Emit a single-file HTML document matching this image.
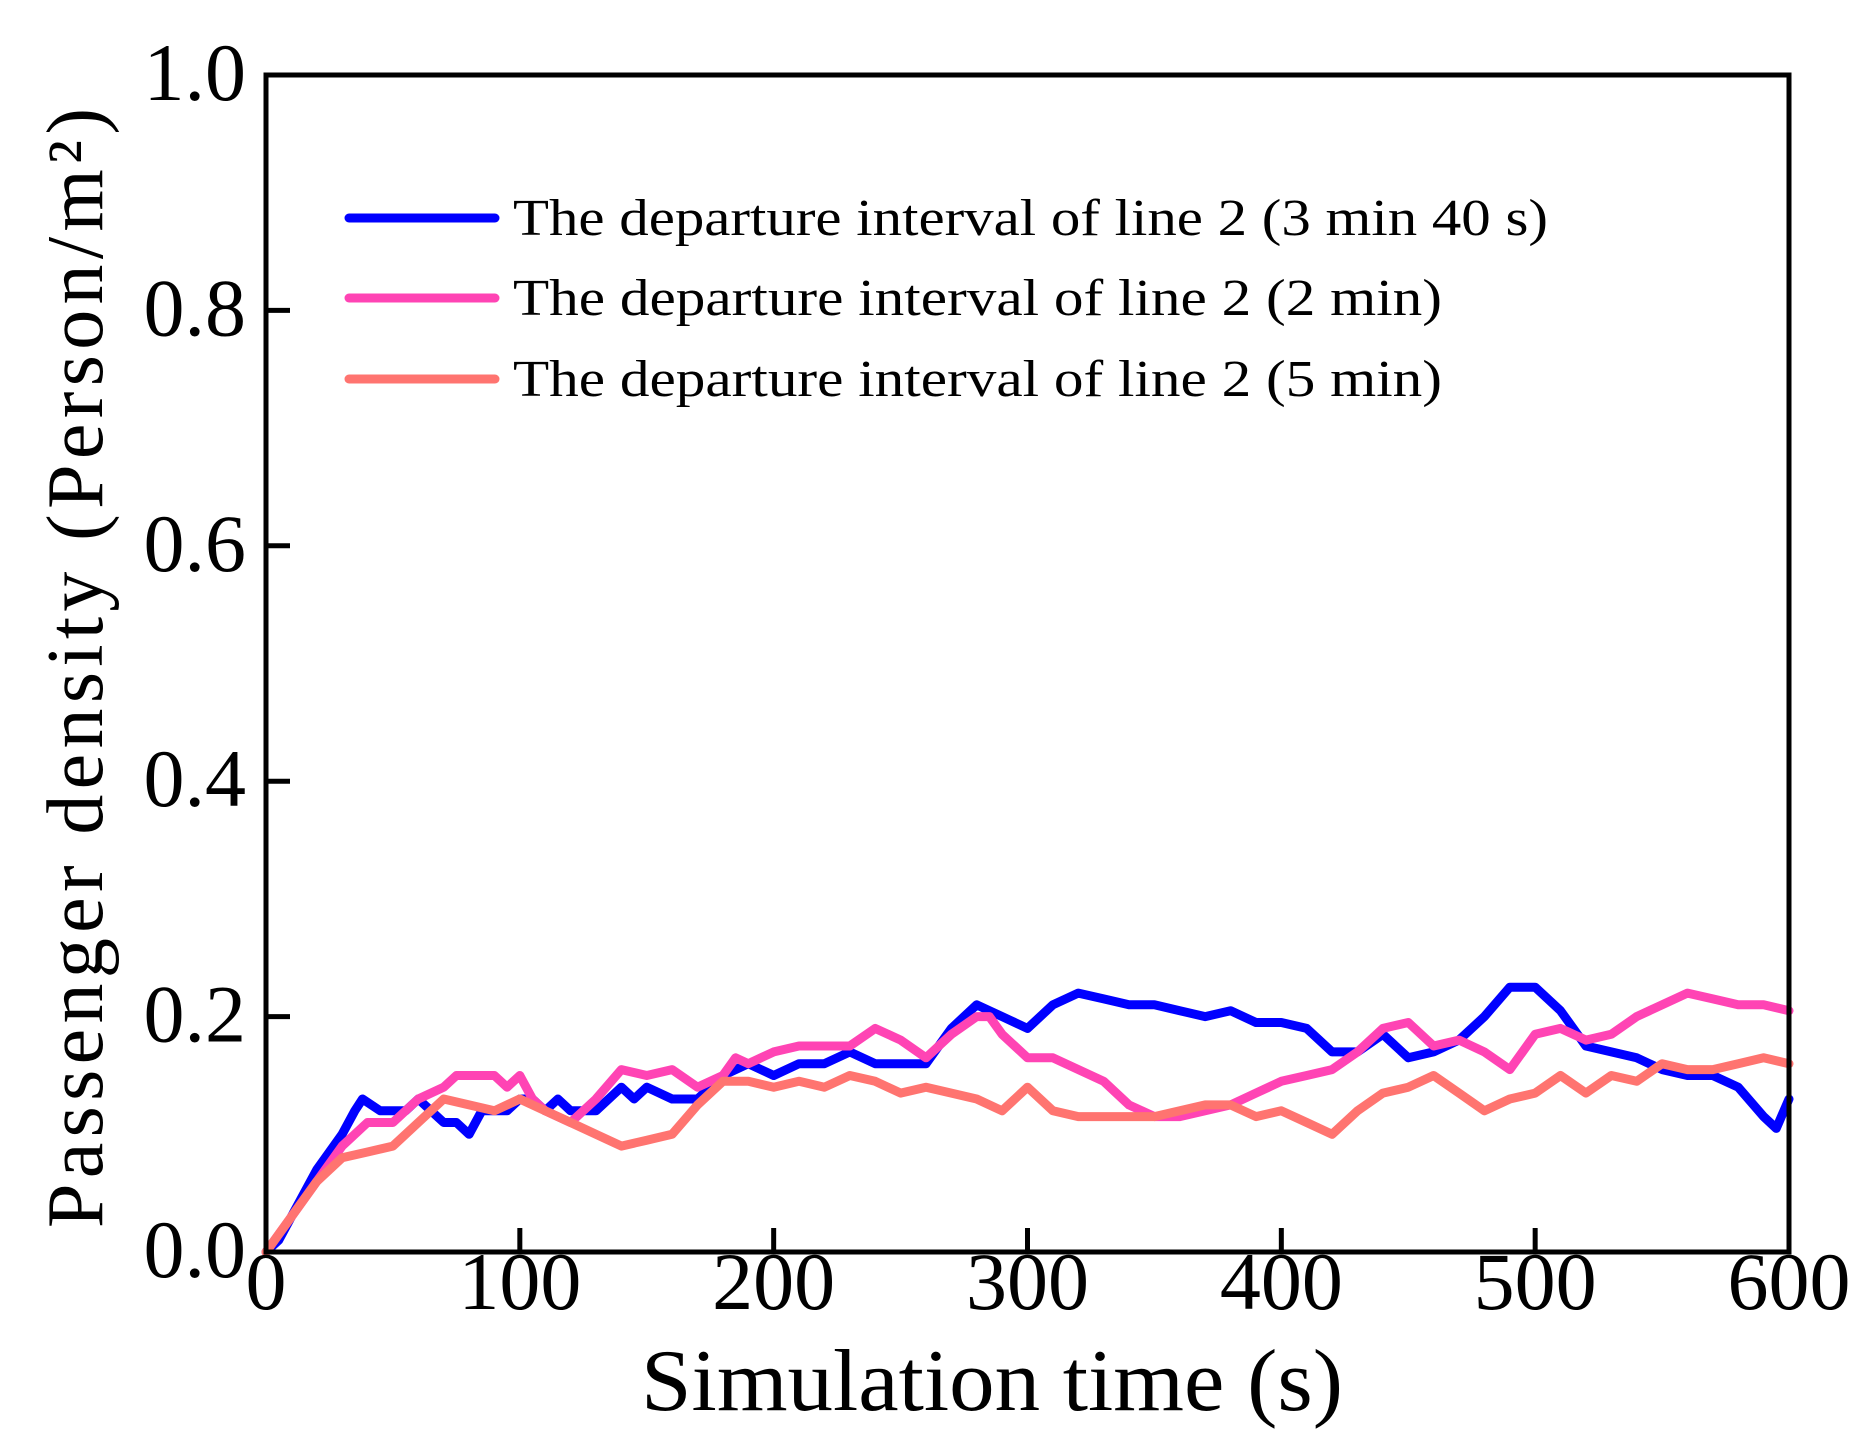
<!DOCTYPE html>
<html><head><meta charset="utf-8"><style>
html,body{margin:0;padding:0;background:#fff;}
svg{display:block;font-family:"Liberation Serif",serif;}
</style></head><body>
<svg id="chart" width="1873" height="1451" viewBox="0 0 1873 1451">
<g id="marks"></g>
<g id="axes"></g>
<g id="legend"></g>
<text x="992" y="1410" font-size="88" text-anchor="middle" textLength="702" lengthAdjust="spacingAndGlyphs">Simulation time (s)</text>
<text transform="translate(102,668) rotate(-90)" font-size="80" text-anchor="middle" textLength="1120">Passenger density (Person/m²)</text>
</svg>
<script>
const xTicks=[0,100,200,300,400,500,600];
const yTicks=[0,0.2,0.4,0.6,0.8,1.0];
const yTickLabels=["0.0","0.2","0.4","0.6","0.8","1.0"];
const seriesNames=["The departure interval of line 2 (3 min 40 s)","The departure interval of line 2 (2 min)","The departure interval of line 2 (5 min)"];
const seriesColors=["#0000ff","#ff44b4","#ff7470"];
const blueT=[0,5,10,20,30,35,38,45,55,60,65,70,75,80,85,90,95,100,105,110,115,120,130,140,145,150,160,170,180,190,200,210,220,230,240,250,260,270,280,290,300,310,320,330,340,350,360,370,380,390,400,410,420,430,440,450,460,470,480,490,500,510,520,530,540,550,560,570,580,590,595,600];
const blueV=[0,0.01,0.03,0.07,0.1,0.12,0.13,0.12,0.12,0.13,0.12,0.11,0.11,0.1,0.12,0.12,0.12,0.13,0.13,0.12,0.13,0.12,0.12,0.14,0.13,0.14,0.13,0.13,0.15,0.16,0.15,0.16,0.16,0.17,0.16,0.16,0.16,0.19,0.21,0.2,0.19,0.21,0.22,0.215,0.21,0.21,0.205,0.2,0.205,0.195,0.195,0.19,0.17,0.17,0.185,0.165,0.17,0.18,0.2,0.225,0.225,0.205,0.175,0.17,0.165,0.155,0.15,0.15,0.14,0.115,0.105,0.13];
const pinkT=[0,10,20,30,40,50,60,70,75,85,90,95,100,105,110,120,130,140,150,160,170,180,185,190,200,210,220,230,240,250,260,270,280,285,290,300,310,320,330,340,350,360,370,380,390,400,410,420,430,440,450,460,470,480,490,500,510,520,530,540,550,560,570,580,590,600];
const pinkV=[0,0.03,0.06,0.09,0.11,0.11,0.13,0.14,0.15,0.15,0.15,0.14,0.15,0.13,0.12,0.11,0.13,0.155,0.15,0.155,0.14,0.15,0.165,0.16,0.17,0.175,0.175,0.175,0.19,0.18,0.165,0.185,0.2,0.2,0.185,0.165,0.165,0.155,0.145,0.125,0.115,0.115,0.12,0.125,0.135,0.145,0.15,0.155,0.17,0.19,0.195,0.175,0.18,0.17,0.155,0.185,0.19,0.18,0.185,0.2,0.21,0.22,0.215,0.21,0.21,0.205];
const salmonT=[0,10,20,30,40,50,60,70,80,90,100,110,120,130,140,150,160,170,180,190,200,210,220,230,240,250,260,270,280,290,300,310,320,330,340,350,360,370,380,390,400,410,420,430,440,450,460,470,480,490,500,510,520,530,540,550,560,570,580,590,600];
const salmonV=[0,0.03,0.06,0.08,0.085,0.09,0.11,0.13,0.125,0.12,0.13,0.12,0.11,0.1,0.09,0.095,0.1,0.125,0.145,0.145,0.14,0.145,0.14,0.15,0.145,0.135,0.14,0.135,0.13,0.12,0.14,0.12,0.115,0.115,0.115,0.115,0.12,0.125,0.125,0.115,0.12,0.11,0.1,0.12,0.135,0.14,0.15,0.135,0.12,0.13,0.135,0.15,0.135,0.15,0.145,0.16,0.155,0.155,0.16,0.165,0.16];

const NS="http://www.w3.org/2000/svg";
const L=266,R=1789,T=75,B=1252;
const xs=v=>L+(v-0)/600*(R-L);
const ys=v=>B-(v-0)/1.0*(B-T);
function mk(tag,attrs,parent){const e=document.createElementNS(NS,tag);for(const k in attrs)e.setAttribute(k,attrs[k]);parent.appendChild(e);return e;}
const marks=document.getElementById('marks'),axes=document.getElementById('axes'),legend=document.getElementById('legend');
const sets=[[blueT,blueV],[pinkT,pinkV],[salmonT,salmonV]];
const sNames=['series-3min40s','series-2min','series-5min'];
sets.forEach((s,i)=>{
  const d=s[0].map((t,j)=>(j?'L':'M')+xs(t).toFixed(1)+','+ys(s[1][j]).toFixed(1)).join('');
  const p=mk('path',{d:d,fill:'none',stroke:seriesColors[i],'stroke-width':9,'stroke-linejoin':'round','stroke-linecap':'round'},marks);
  
  
});
const frame=mk('rect',{x:L,y:T,width:R-L,height:B-T,fill:'none',stroke:'#000','stroke-width':5},axes);


xTicks.forEach(v=>{
  const tk=mk('line',{x1:xs(v),x2:xs(v),y1:B,y2:B-24,stroke:'#000','stroke-width':5},axes);
  
  
  const t=mk('text',{x:xs(v),y:1309,'font-size':82,'text-anchor':'middle'},axes);
  t.textContent=String(v);
  
  
});
yTicks.forEach((v,i)=>{
  const tk=mk('line',{x1:L,x2:L+24,y1:ys(v),y2:ys(v),stroke:'#000','stroke-width':5},axes);
  
  
  const t=mk('text',{x:246,y:ys(v)+25,'font-size':82,'text-anchor':'end'},axes);
  t.textContent=yTickLabels[i];
  
  
});
const legY=[218,298,379];
const legW=[1035,929,929];
seriesNames.forEach((n,i)=>{
  const ln=mk('line',{x1:349,x2:495,y1:legY[i],y2:legY[i],stroke:seriesColors[i],'stroke-width':9,'stroke-linecap':'round'},legend);
  
  
  const t=mk('text',{x:513,y:legY[i]+17,'font-size':52,textLength:legW[i],lengthAdjust:'spacingAndGlyphs'},legend);
  t.textContent=n;
  
  
});
</script>
</body></html>
